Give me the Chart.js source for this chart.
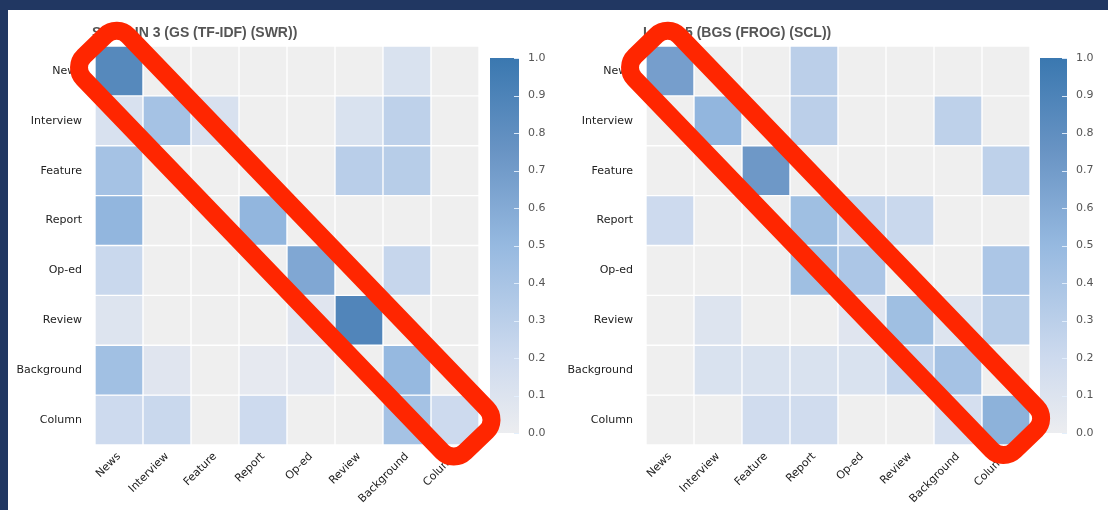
<!DOCTYPE html>
<html>
<head>
<meta charset="utf-8">
<script src="https://cdn.jsdelivr.net/npm/chart.js@4"></script>
<style>
body { margin: 0; background: #213762; width: 1108px; height: 510px; overflow: hidden; position: relative; }
#panel { position: absolute; left: 8px; top: 10px; width: 1100px; height: 500px; background: #fff; }
canvas { position: absolute; }
</style>
</head>
<body>
<div id="panel"></div>
<canvas id="heatLeft" width="480" height="500" style="left:8px;top:10px"></canvas>
<canvas id="barLeft" width="80" height="500" style="left:480px;top:10px"></canvas>
<canvas id="heatRight" width="480" height="500" style="left:559px;top:10px"></canvas>
<canvas id="barRight" width="78" height="500" style="left:1030px;top:10px"></canvas>
<canvas id="marks" width="1108" height="510" style="left:0;top:0"></canvas>
<script>
const genres = ['News', 'Interview', 'Feature', 'Report', 'Op-ed', 'Review', 'Background', 'Column'];

// rows = true genre, columns = predicted genre
const swrMatrix = [
    [0.85, 0.00, 0.00, 0.00, 0.00, 0.00, 0.12, 0.00],
    [0.13, 0.42, 0.13, 0.00, 0.00, 0.12, 0.28, 0.00],
    [0.42, 0.00, 0.00, 0.00, 0.00, 0.31, 0.32, 0.00],
    [0.52, 0.00, 0.00, 0.52, 0.00, 0.00, 0.00, 0.00],
    [0.22, 0.00, 0.00, 0.00, 0.62, 0.00, 0.24, 0.00],
    [0.10, 0.00, 0.00, 0.00, 0.08, 0.88, 0.00, 0.00],
    [0.44, 0.08, 0.00, 0.04, 0.05, 0.00, 0.50, 0.00],
    [0.20, 0.22, 0.00, 0.20, 0.00, 0.00, 0.42, 0.20]
];
const sclMatrix = [
    [0.68, 0.00, 0.00, 0.30, 0.00, 0.00, 0.00, 0.00],
    [0.00, 0.52, 0.00, 0.30, 0.00, 0.00, 0.28, 0.00],
    [0.00, 0.00, 0.72, 0.00, 0.00, 0.00, 0.00, 0.28],
    [0.20, 0.00, 0.00, 0.45, 0.25, 0.22, 0.00, 0.00],
    [0.00, 0.00, 0.00, 0.45, 0.38, 0.00, 0.00, 0.38],
    [0.00, 0.10, 0.00, 0.00, 0.08, 0.45, 0.10, 0.32],
    [0.00, 0.12, 0.12, 0.12, 0.12, 0.25, 0.42, 0.00],
    [0.00, 0.00, 0.18, 0.18, 0.00, 0.00, 0.15, 0.55]
];
const leftTitle = 'SVM LIN 3 (GS (TF-IDF) (SWR))';
const rightTitle = 'LR 10 5 (BGS (FROG) (SCL))';
const barMin = 0;
const barMax = 1;

// light grey -> steel blue
const stops = [
    [0.00, [236, 237, 240]],
    [0.20, [205, 218, 238]],
    [0.50, [150, 185, 224]],
    [0.75, [105, 148, 196]],
    [1.00, [58, 120, 176]]
];

function cellColor(v) {
    if (v <= 0) return 'rgb(239,239,239)';
    for (let i = 1; i < stops.length; i++) {
        if (v <= stops[i][0]) {
            const [a, ca] = stops[i - 1], [b, cb] = stops[i];
            const t = (v - a) / (b - a);
            const c = ca.map((x, k) => Math.round(x + (cb[k] - x) * t));
            return 'rgb(' + c.join(',') + ')';
        }
    }
    return 'rgb(58,120,176)';
}

const cornerTitle = {
    id: 'cornerTitle',
    afterDraw(chart, args, opts) {
        const { ctx, chartArea } = chart;
        ctx.save();
        ctx.font = 'bold 14px "Liberation Sans"';
        ctx.fillStyle = '#555555';
        ctx.textBaseline = 'middle';
        ctx.fillText(opts.text, chartArea.left - 3, chartArea.top - 13);
        ctx.restore();
    }
};

function heatmap(id, title, matrix) {
    const datasets = matrix.map((row, r) => ({
        label: genres[r],
        data: genres.map(() => 1),
        backgroundColor: row.map(cellColor),
        borderColor: '#ffffff',
        borderWidth: 1,
        borderSkipped: false,
        barPercentage: 1,
        categoryPercentage: 1
    }));
    return new Chart(document.getElementById(id), {
        type: 'bar',
        data: { labels: genres, datasets: datasets },
        plugins: [cornerTitle],
        options: {
            animation: false,
            responsive: false,
            layout: { padding: { top: 36, right: 9, bottom: 0, left: 0 } },
            plugins: {
                legend: { display: false },
                tooltip: { enabled: false },
                cornerTitle: { text: title }
            },
            scales: {
                x: {
                    stacked: true,
                    grid: { display: false },
                    border: { display: false },
                    ticks: {
                        maxRotation: 45,
                        minRotation: 45,
                        padding: -3,
                        color: '#222',
                        font: { family: 'DejaVu Sans', size: 11 }
                    },
                    afterFit: s => { s.height = 65; }
                },
                y: {
                    stacked: true,
                    reverse: true,
                    min: 0,
                    max: genres.length,
                    grid: { display: false },
                    border: { display: false },
                    afterBuildTicks: s => { s.ticks = genres.map((g, i) => ({ value: i + 0.5 })); },
                    ticks: {
                        padding: 5,
                        color: '#222',
                        font: { family: 'DejaVu Sans', size: 11 },
                        callback: v => genres[Math.floor(v)]
                    },
                    afterFit: s => { s.width = 87; }
                }
            }
        }
    });
}

const tickMarks = {
    id: 'tickMarks',
    afterDatasetsDraw(chart) {
        const { ctx, chartArea } = chart;
        const y = chart.scales.y;
        ctx.save();
        ctx.strokeStyle = 'rgba(225,238,252,0.95)';
        ctx.lineWidth = 1;
        y.ticks.forEach(t => {
            const py = Math.round(y.getPixelForValue(t.value)) + 0.5;
            ctx.beginPath();
            ctx.moveTo(chartArea.right - 5, py);
            ctx.lineTo(chartArea.right, py);
            ctx.stroke();
        });
        ctx.restore();
    }
};

function colorbar(id) {
    return new Chart(document.getElementById(id), {
        type: 'bar',
        data: {
            labels: [''],
            datasets: [{
                data: [[barMin, barMax]],
                backgroundColor: c => {
                    const { ctx, chartArea } = c.chart;
                    if (!chartArea) return '#ccc';
                    const g = ctx.createLinearGradient(0, chartArea.bottom, 0, chartArea.top);
                    stops.forEach(([p, col]) => g.addColorStop(p, 'rgb(' + col.join(',') + ')'));
                    return g;
                },
                borderWidth: 0,
                barPercentage: 1,
                categoryPercentage: 1
            }]
        },
        plugins: [tickMarks],
        options: {
            animation: false,
            responsive: false,
            layout: { padding: { top: 48, bottom: 77, left: 10, right: 0 } },
            plugins: { legend: { display: false }, tooltip: { enabled: false } },
            scales: {
                x: { display: false },
                y: {
                    position: 'right',
                    min: barMin,
                    max: barMax,
                    grid: { display: false },
                    border: { display: false },
                    ticks: {
                        stepSize: 0.1,
                        padding: 1,
                        color: '#555',
                        font: { family: 'DejaVu Sans', size: 11 },
                        callback: v => v.toFixed(1)
                    },
                    afterFit: s => { s.width = 41; }
                }
            }
        }
    });
}

function highlight(chart, extStart, extEnd) {
    const ctx = document.getElementById('marks').getContext('2d');
    const x = chart.scales.x, y = chart.scales.y;
    const ox = chart.canvas.offsetLeft, oy = chart.canvas.offsetTop;
    const x0 = ox + x.getPixelForValue(0), y0 = oy + y.getPixelForValue(0.5);
    const x1 = ox + x.getPixelForValue(genres.length - 1), y1 = oy + y.getPixelForValue(genres.length - 0.5);
    const ang = Math.atan2(y1 - y0, x1 - x0);
    const len = Math.hypot(x1 - x0, y1 - y0);
    ctx.save();
    ctx.translate(x0, y0);
    ctx.rotate(ang);
    ctx.strokeStyle = '#ff2600';
    ctx.lineWidth = 18;
    ctx.beginPath();
    ctx.roundRect(-extStart, -31, len + extStart + extEnd, 62, 16);
    ctx.stroke();
    ctx.restore();
}

const chartLeft = heatmap('heatLeft', leftTitle, swrMatrix);
const chartRight = heatmap('heatRight', rightTitle, sclMatrix);
colorbar('barLeft');
colorbar('barRight');
highlight(chartLeft, 35, 30);
highlight(chartRight, 35, 28);
</script>
</body>
</html>
